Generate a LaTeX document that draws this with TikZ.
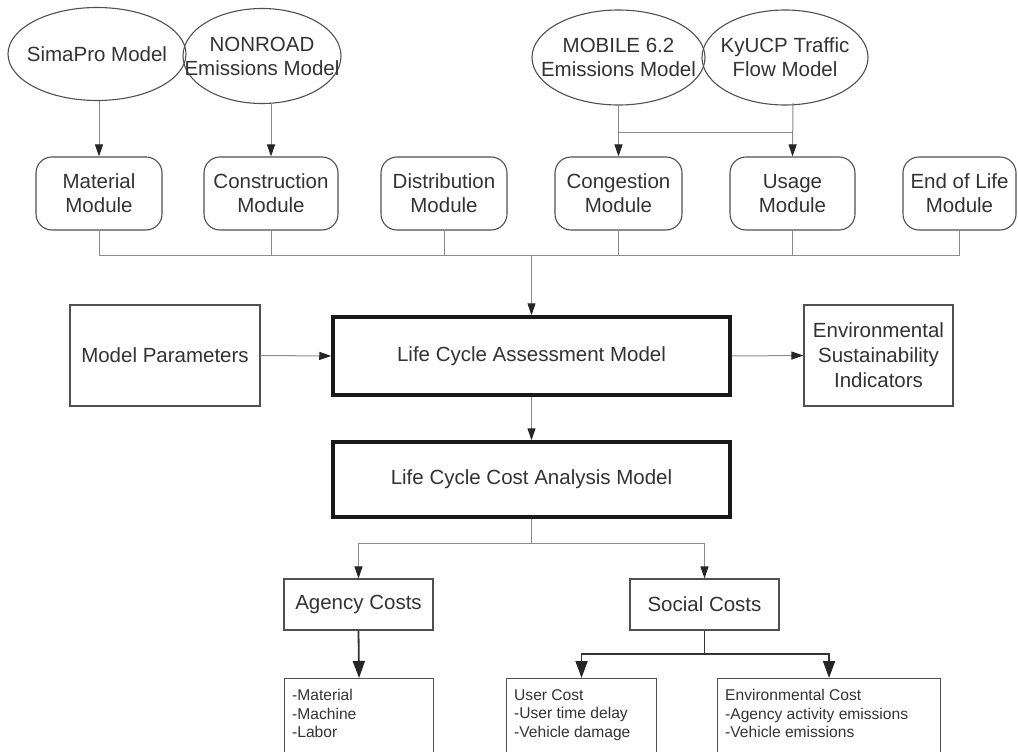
\documentclass[tikz,border=0pt]{standalone}
\usepackage{fontspec}
\setmainfont{Liberation Sans}
\usetikzlibrary{shapes.geometric,arrows.meta}
\definecolor{txtc}{HTML}{333333}
\definecolor{bord}{HTML}{505050}
\definecolor{conn}{HTML}{8C8C8C}
\begin{document}
\begin{tikzpicture}[x=1pt,y=-1pt,
  big/.style={text=txtc,font=\fontsize{20.5}{24}\selectfont,align=center},
  mid/.style={text=txtc,font=\fontsize{20.5}{25}\selectfont,align=center},
  small/.style={text=txtc,font=\fontsize{15.6}{18.5}\selectfont,align=left,anchor=north west,inner sep=0pt},
  ellnode/.style={draw=bord,line width=1.1pt,ellipse,inner sep=0pt},
  modbox/.style={draw=bord,line width=1.1pt,rounded corners=16pt,minimum height=73pt,inner sep=0pt},
  plainbox/.style={draw=bord,line width=1.1pt,inner sep=0pt},
  heavybox/.style={draw=black!90,line width=3.5pt,inner sep=0pt,minimum width=397pt},
  gline/.style={draw=conn,line width=1pt},
  garrow/.style={gline,-{Triangle[length=12pt,width=8pt,color=black!85]}},
  dline/.style={draw=black!80,line width=1.8pt},
  darrow/.style={dline,-{Triangle[length=17pt,width=12pt,color=black!85]}}
]
\useasboundingbox[fill=white] (0,0) rectangle (1018,752);
\clip (0,0) rectangle (1018,752);

% ellipses
\node[ellnode,minimum width=178pt,minimum height=93pt] (sima) at (97,54) {};
\node[big] (simat) at (sima.center) {SimaPro Model};
\node[ellnode,minimum width=158pt,minimum height=95pt] (nonr) at (262,56) {};
\node[big] (nonrt) at (nonr.center) {NONROAD\\Emissions Model};
\node[ellnode,minimum width=173pt,minimum height=95pt] (mob) at (618.5,57.5) {};
\node[big] (mobt) at (mob.center) {MOBILE 6.2\\Emissions Model};
\node[ellnode,minimum width=166pt,minimum height=95pt] (kyu) at (785,57.5) {};
\node[big] (kyut) at (kyu.center) {KyUCP Traffic\\Flow Model};

% modules
\node[modbox,minimum width=126pt] (mat) at (99,193.5) {};
\node[big] at (mat.center) {Material\\Module};
\node[modbox,minimum width=134pt] (con) at (271,193.5) {};
\node[big] at (con.center) {Construction\\Module};
\node[modbox,minimum width=126pt] (dis) at (444,193.5) {};
\node[big] at (dis.center) {Distribution\\Module};
\node[modbox,minimum width=127pt] (cong) at (618.5,193.5) {};
\node[big] at (cong.center) {Congestion\\Module};
\node[modbox,minimum width=125pt] (usa) at (792.5,193.5) {};
\node[big] at (usa.center) {Usage\\Module};
\node[modbox,minimum width=113pt] (eol) at (959.5,193.5) {};
\node[big] at (eol.center) {End of Life\\Module};

% top arrows
\draw[garrow] (sima.south -| mat.north) -- (mat.north);
\draw[garrow] (nonr.south -| con.north) -- (con.north);
\draw[garrow] (mob.south -| cong.north) -- (cong.north);
\coordinate (kyb) at (793,103);
\draw[garrow] (kyb) -- (usa.north);
\coordinate (j1) at (618.5,132);
\coordinate (j2) at (793,132);
\draw[gline] (j1) -- (j2);

% bus
\coordinate (busL) at (99,255);
\coordinate (busR) at (959.5,255);
\draw[gline] (mat.south) -- (busL) -- (busR) -- (eol.south);
\draw[gline] (con.south) -- (con.south |- busL);
\draw[gline] (dis.south) -- (dis.south |- busL);
\draw[gline] (cong.south) -- (cong.south |- busL);
\draw[gline] (usa.south) -- (usa.south |- busL);

% middle
\node[plainbox,minimum width=190pt,minimum height=101pt] (mp) at (165,355.5) {};
\node[mid] at (mp.center) {Model Parameters};
\node[heavybox,minimum height=78pt] (lca) at (531.5,356) {};
\node[mid] at (lca.center) {Life Cycle Assessment Model};
\node[plainbox,minimum width=149pt,minimum height=101pt] (env) at (878.5,355.5) {};
\node[mid] at (env.center) {Environmental\\Sustainability\\Indicators};
\node[heavybox,minimum height=75pt] (lcca) at (531.5,479.5) {};
\node[mid] at (lcca.center) {Life Cycle Cost Analysis Model};

\draw[garrow] (lca.north |- busL) -- (lca.north);
\draw[garrow] (mp.east) -- (lca.west);
\draw[garrow] (lca.east) -- (env.west);
\draw[garrow] (lca.south) -- (lcca.north);

% costs
\node[plainbox,minimum width=149pt,minimum height=51pt] (age) at (358.5,604.5) {};
\node[mid] at (age.center) {Agency Costs};
\node[plainbox,minimum width=149pt,minimum height=51pt] (soc) at (704.5,604.5) {};
\node[mid] at (soc.center) {Social Costs};
\coordinate (c1) at (531.5,543);
\draw[gline] (lcca.south) -- (c1);
\draw[garrow] (c1) -| (age.north);
\draw[garrow] (c1) -| (soc.north);

% lists
\node[plainbox,anchor=north west,minimum width=149pt,minimum height=85pt] (mlist) at (284,678) {};
\node[small] at ([xshift=8pt,yshift=-11pt]mlist.north west) {-Material\\-Machine\\-Labor};
\node[plainbox,anchor=north west,minimum width=150pt,minimum height=85pt] (ulist) at (506,678) {};
\node[small] at ([xshift=8pt,yshift=-11pt]ulist.north west) {User Cost\\-User time delay\\-Vehicle damage};
\node[plainbox,anchor=north west,minimum width=223pt,minimum height=85pt] (elist) at (717,678) {};
\node[small] at ([xshift=8pt,yshift=-11pt]elist.north west) {Environmental Cost\\-Agency activity emissions\\-Vehicle emissions};

\draw[darrow] (age.south) -- (mlist.north);
\coordinate (c2) at (704.5,654);
\draw[dline] (soc.south) -- (c2);
\draw[darrow] (c2) -| (ulist.north);
\draw[darrow] (c2) -| (elist.north);
\end{tikzpicture}
\end{document}
